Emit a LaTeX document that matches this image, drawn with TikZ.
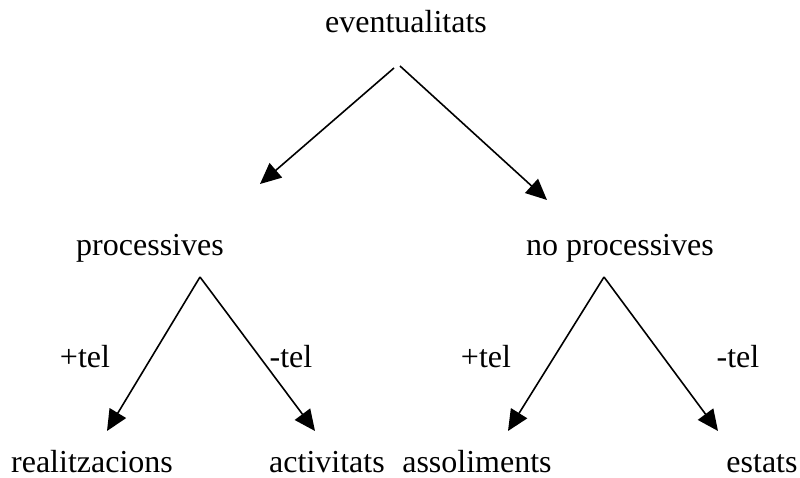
\documentclass[tikz,border=0pt]{standalone}
\usepackage{fontspec}
\setmainfont{Liberation Serif}
\usetikzlibrary{arrows.meta}
\begin{document}
\begin{tikzpicture}[x=1pt,y=-1pt,
  lbl/.style={anchor=base,inner sep=0pt,font=\fontsize{32}{38}\selectfont},
  branch/.style={line width=1.6pt,-{Triangle[length=21pt,width=19pt]}}]
\useasboundingbox (0,0) rectangle (800,478);
% category labels
\node[lbl] (ev) at (406,33) {eventualitats};
\node[lbl] (pr) at (150,255) {processives};
\node[lbl] (np) at (620,255) {no processives};
\node[lbl] (re) at (92,472) {realitzacions};
\node[lbl] (ac) at (327,472) {activitats};
\node[lbl] (as) at (477,472) {assoliments};
\node[lbl] (es) at (762,472) {estats};
% feature labels
\node[lbl] (pt1) at (85,367) {+tel};
\node[lbl] (mt1) at (291,367) {-tel};
\node[lbl] (pt2) at (486,367) {+tel};
\node[lbl] (mt2) at (738,367) {-tel};
% branch points and arrow ends
\coordinate (evL) at (394,68);
\coordinate (evR) at (400,66);
\coordinate (prL) at (260,184);
\coordinate (npL) at (547,200);
\coordinate (prA) at (200,277);
\coordinate (npA) at (604,277);
\coordinate (reT) at (107,431);
\coordinate (acT) at (315,431);
\coordinate (asT) at (508,431);
\coordinate (esT) at (718,431);
% arrows
\draw[branch] (evL) -- (prL);
\draw[branch] (evR) -- (npL);
\draw[branch] (prA) -- (reT);
\draw[branch] (prA) -- (acT);
\draw[branch] (npA) -- (asT);
\draw[branch] (npA) -- (esT);
\end{tikzpicture}
\end{document}
